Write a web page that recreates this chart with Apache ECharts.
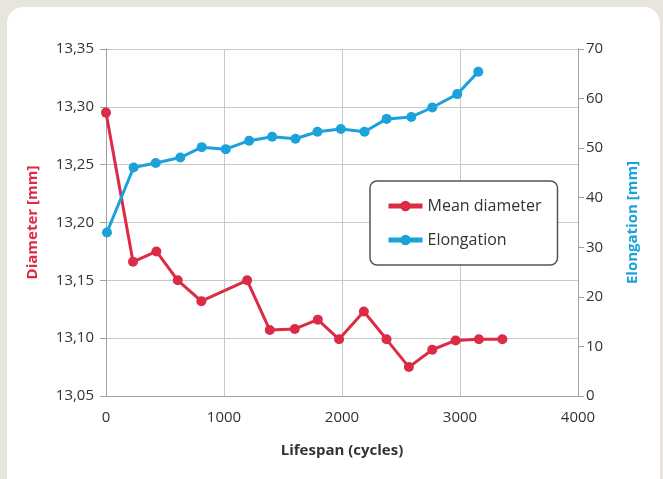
<!DOCTYPE html>
<html><head><meta charset="utf-8">
<script src="https://cdn.jsdelivr.net/npm/echarts@6/dist/echarts.min.js"></script>
<style>html,body{margin:0;padding:0;background:#e8e5dd;}#c{width:663px;height:479px;}</style>
</head><body><div id="c"></div>
<script>
// Mean diameter series
const diamCycles = [0, 229, 427, 608, 808, 1196, 1388, 1600, 1795, 1975, 2185, 2377, 2567, 2765, 2963, 3160, 3359];
const diamValues = [13.295, 13.166, 13.175, 13.150, 13.132, 13.150, 13.107, 13.108, 13.116, 13.099, 13.123, 13.099, 13.075, 13.090, 13.098, 13.099, 13.099];
// Elongation series
const elongCycles = [8, 234, 421, 630, 811, 1015, 1213, 1408, 1606, 1792, 1990, 2191, 2378, 2587, 2765, 2977, 3155];
const elongValues = [33.0, 46.1, 47.0, 48.1, 50.2, 49.8, 51.5, 52.3, 51.9, 53.3, 53.85, 53.3, 55.9, 56.3, 58.2, 60.9, 65.4];
const seriesNames = ['Mean diameter', 'Elongation'];
const axisNames = ['Lifespan (cycles)', 'Diameter [mm]', 'Elongation [mm]'];

const RED = '#dc2b46', BLUE = '#1ba2db', FONT = 'Open Sans';
const chart = echarts.init(document.getElementById('c'));
chart.setOption({
  backgroundColor: '#e8e5dd',
  animation: false,
  textStyle: {fontFamily: FONT},
  graphic: [{type: 'rect', z: -10, shape: {x: 7, y: 7, width: 653, height: 490, r: 16}, style: {fill: '#ffffff'}}],
  grid: {left: 106, right: 85, top: 49, bottom: 83},
  legend: {
    orient: 'vertical', left: 370, top: 181,
    padding: [17, 16, 17, 16], itemGap: 18, itemWidth: 34, itemHeight: 13,
    borderColor: '#555', borderWidth: 1.5, borderRadius: 7, backgroundColor: '#fff',
    lineStyle: {width: 5},
    textStyle: {fontFamily: FONT, fontSize: 16, color: '#333'},
    data: seriesNames
  },
  xAxis: {
    type: 'value', min: 0, max: 4000, interval: 1000,
    name: axisNames[0], nameLocation: 'middle', nameGap: 47,
    nameTextStyle: {fontFamily: FONT, fontSize: 15, fontWeight: 'bold', color: '#333'},
    axisLine: {show: true, lineStyle: {color: '#a0a0a0', width: 1}},
    axisTick: {show: false},
    axisLabel: {fontSize: 15, color: '#333', margin: 14, formatter: v => String(v)},
    splitLine: {show: true, lineStyle: {color: '#c8c8c8', width: 1}}
  },
  yAxis: [{
    type: 'value', min: 13.05, max: 13.35, interval: 0.05, position: 'left',
    name: axisNames[1], nameLocation: 'middle', nameGap: 66, nameRotate: 90,
    nameTextStyle: {fontFamily: FONT, fontSize: 15, fontWeight: 'bold', color: RED},
    axisLine: {show: true, lineStyle: {color: '#a0a0a0', width: 1}},
    axisTick: {show: true, length: 6, lineStyle: {color: '#a0a0a0'}},
    axisLabel: {fontSize: 15, color: '#333', margin: 12, formatter: v => v.toFixed(2).replace('.', ',')},
    splitLine: {show: true, lineStyle: {color: '#c8c8c8', width: 1}}
  }, {
    type: 'value', min: 0, max: 70, interval: 10, position: 'right',
    name: axisNames[2], nameLocation: 'middle', nameGap: 47, nameRotate: 90,
    nameTextStyle: {fontFamily: FONT, fontSize: 15, fontWeight: 'bold', color: BLUE},
    axisLine: {show: true, lineStyle: {color: '#a0a0a0', width: 1}},
    axisTick: {show: true, length: 6, lineStyle: {color: '#a0a0a0'}},
    axisLabel: {fontSize: 15, color: '#333', margin: 8},
    splitLine: {show: false}
  }],
  series: [{
    name: seriesNames[0], type: 'line', yAxisIndex: 0,
    data: diamCycles.map((x, i) => [x, diamValues[i]]),
    symbol: 'circle', symbolSize: 10, color: RED,
    lineStyle: {width: 3, color: RED}, itemStyle: {color: RED}
  }, {
    name: seriesNames[1], type: 'line', yAxisIndex: 1,
    data: elongCycles.map((x, i) => [x, elongValues[i]]),
    symbol: 'circle', symbolSize: 10, color: BLUE,
    lineStyle: {width: 3, color: BLUE}, itemStyle: {color: BLUE}
  }]
});
</script></body></html>
